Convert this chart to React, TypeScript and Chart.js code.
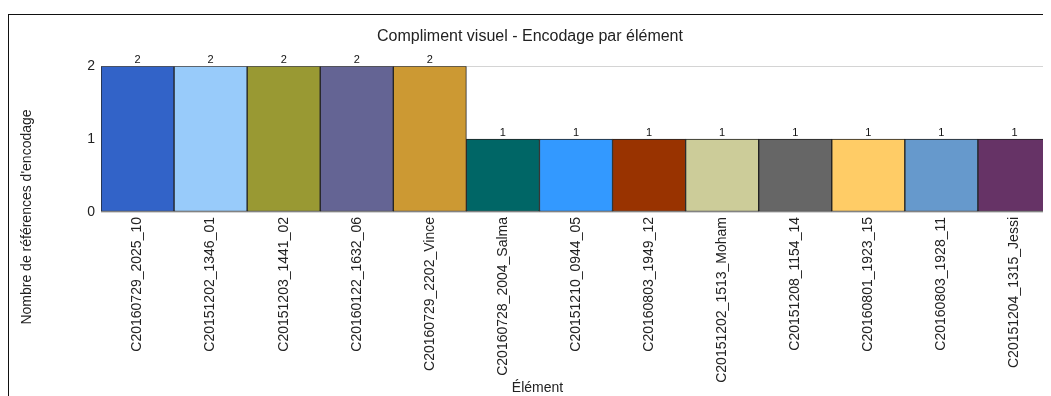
import React, { useEffect, useRef } from "react";
import { Chart, registerables } from "chart.js";

Chart.register(...registerables);

const categories: string[] = [
  "C20160729_2025_10",
  "C20151202_1346_01",
  "C20151203_1441_02",
  "C20160122_1632_06",
  "C20160729_2202_Vince",
  "C20160728_2004_Salma",
  "C20151210_0944_05",
  "C20160803_1949_12",
  "C20151202_1513_Moham",
  "C20151208_1154_14",
  "C20160801_1923_15",
  "C20160803_1928_11",
  "C20151204_1315_Jessi",
];

const encodingCounts: number[] = [2, 2, 2, 2, 2, 1, 1, 1, 1, 1, 1, 1, 1];

const barColors: string[] = [
  "#3263C8",
  "#98CBFA",
  "#999933",
  "#646494",
  "#CC9933",
  "#006666",
  "#3399FF",
  "#993300",
  "#CCCC99",
  "#666666",
  "#FFCC66",
  "#6699CC",
  "#663366",
];

const yTicks: number[] = [0, 1, 2];

const chartTitle = "Compliment visuel - Encodage par élément";
const xTitle = "Élément";
const yTitle = "Nombre de références d'encodage";

const FONT = "'Liberation Sans', Arial, sans-serif";

const valueLabelPlugin = {
  id: "valueLabels",
  afterDatasetsDraw(chart: any) {
    const ctx = chart.ctx;
    const meta = chart.getDatasetMeta(0);
    ctx.save();
    ctx.font = `11px ${FONT}`;
    ctx.fillStyle = "#111";
    ctx.textAlign = "center";
    ctx.textBaseline = "bottom";
    meta.data.forEach((bar: any, i: number) => {
      ctx.fillText(String(encodingCounts[i]), bar.x, bar.y - 1);
    });
    ctx.restore();
  },
};

const axisTitlePlugin = {
  id: "axisTitles",
  afterDraw(chart: any) {
    const ctx = chart.ctx;
    ctx.save();
    ctx.font = `14px ${FONT}`;
    ctx.fillStyle = "#222";
    ctx.textAlign = "center";
    ctx.textBaseline = "middle";
    // x-axis title, centered on the whole chart frame
    ctx.fillText(xTitle, chart.width / 2 + 5, chart.height - 8);
    // y-axis title, rotated
    ctx.translate(18, 202);
    ctx.rotate(-Math.PI / 2);
    ctx.fillText(yTitle, 0, 0);
    ctx.restore();
  },
};

export default function App() {
  const canvasRef = useRef<HTMLCanvasElement | null>(null);

  useEffect(() => {
    document.body.style.overflow = "hidden";
    const canvas = canvasRef.current;
    if (!canvas) return;
    const chart = new Chart(canvas, {
      type: "bar",
      data: {
        labels: categories,
        datasets: [
          {
            data: encodingCounts,
            backgroundColor: barColors,
            borderColor: "#222",
            borderWidth: 1,
            borderSkipped: false,
            barPercentage: 1,
            categoryPercentage: 1,
          },
        ],
      },
      options: {
        responsive: false,
        animation: false,
        layout: { padding: { top: 0, right: 5, bottom: 0, left: 0 } },
        plugins: {
          legend: { display: false },
          tooltip: { enabled: false },
          title: {
            display: true,
            text: chartTitle,
            color: "#222",
            font: { family: FONT, size: 16, weight: "normal" },
            padding: { top: 12, bottom: 20 },
          },
        },
        scales: {
          x: {
            grid: { display: false, drawTicks: false },
            border: { display: false },
            ticks: {
              autoSkip: false,
              maxRotation: 90,
              minRotation: 90,
              padding: 5,
              color: "#222",
              font: { family: FONT, size: 14 },
            },
            afterFit(scale: any) {
              scale.height = 184;
            },
          },
          y: {
            min: 0,
            max: 2,
            afterBuildTicks(scale: any) {
              scale.ticks = yTicks.map((v) => ({ value: v }));
            },
            grid: { color: "#d4d4d4", drawTicks: false },
            border: { display: false },
            ticks: {
              padding: 6,
              color: "#222",
              font: { family: FONT, size: 14 },
            },
            afterFit(scale: any) {
              scale.width = 92;
            },
          },
        },
      },
      plugins: [valueLabelPlugin, axisTitlePlugin],
    });
    return () => chart.destroy();
  }, []);

  return (
    <div style={{ paddingTop: 6 }}>
      <div
        style={{
          position: "relative",
          width: 1043,
          height: 382,
          overflow: "hidden",
        }}
      >
        <div
          style={{
            position: "absolute",
            left: 0,
            top: 0,
            width: 1048,
            height: 400,
            borderTop: "1px solid #111",
            borderLeft: "1px solid #111",
            boxSizing: "border-box",
            background: "#fff",
          }}
        >
          <canvas
            ref={canvasRef}
            width={1047}
            height={381}
            style={{ display: "block" }}
          />
        </div>
      </div>
    </div>
  );
}
